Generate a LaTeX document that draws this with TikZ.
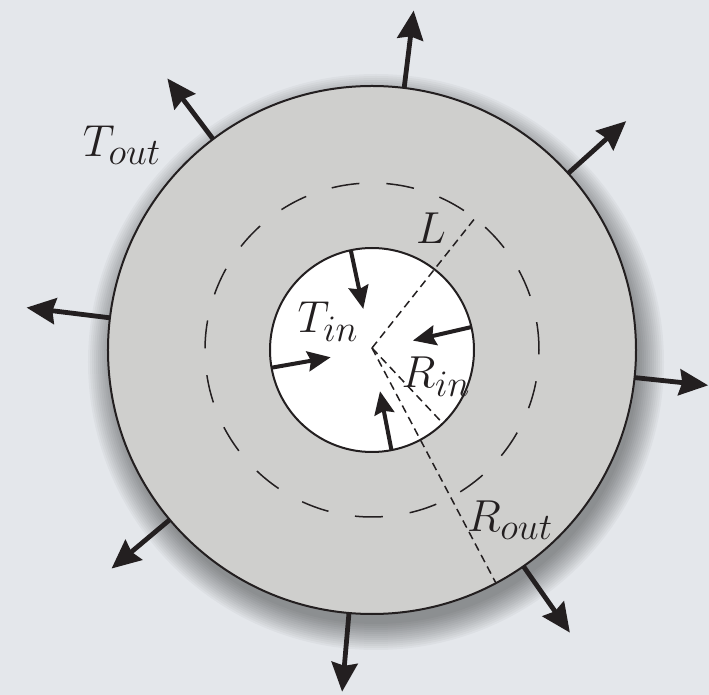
\documentclass[tikz,border=0pt]{standalone}
\usepackage{tikz}
\usetikzlibrary{arrows.meta}

\definecolor{bgcol}{RGB}{228,231,235}
\definecolor{discgray}{RGB}{207,207,205}
\definecolor{ink}{RGB}{35,31,32}

\begin{document}
\begin{tikzpicture}[x=1pt, y=1pt,
        ring/.style={circle, draw=ink, line width=2pt, inner sep=0pt, outer sep=0pt},
        outarr/.style={draw=ink, line width=4.8pt, -{Stealth[length=29pt, width=26pt, inset=3pt]}},
        inarr/.style={draw=ink, line width=4pt, -{Stealth[length=23pt, width=20pt, inset=3pt]}},
        rad/.style={draw=ink, line width=1.5pt, dash pattern=on 8pt off 5pt},
        lbl/.style={font=\Huge, scale=1.8, transform shape, inner sep=0pt, text=ink}
    ]

    %% ---- background ----
    \fill[bgcol] (-372,-345) rectangle (337,350);
    \useasboundingbox (-372,-345) rectangle (337,350);

    %% ---- shadow under the disc ----
    \foreach \r in {262,264,...,288}
        \fill[black, opacity=0.03] (4,-12) circle (\r);

    %% ---- rings ----
    \node[ring, fill=discgray, minimum size=528pt] (disc) at (0,0) {};
    \node[circle, draw=ink, line width=1.5pt, dash pattern=on 28pt off 27pt,
          inner sep=0pt, outer sep=0pt, minimum size=334pt] (Lring) at (0,0) {};
    \node[ring, fill=white, minimum size=204pt] (hole) at (0,0) {};
    \coordinate (ctr) at (0,2);

    %% ---- radii ----
    \draw[rad] (ctr) -- (Lring.52);
    \draw[rad] (ctr) -- (hole.-46);
    \draw[rad] (ctr) -- (disc.-62);

    %% ---- heat flux out ----
    \coordinate (o1) at (83:342);
    \coordinate (o2) at (42:342);
    \coordinate (o3) at (-6:338);
    \coordinate (o4) at (-55:345);
    \coordinate (o5) at (-95:343);
    \coordinate (o6) at (-140:340);
    \coordinate (o7) at (173:348);
    \coordinate (o8) at (127:340);
    \draw[outarr] (disc.83) -- (o1);
    \draw[outarr] (disc.42) -- (o2);
    \draw[outarr] (disc.-6) -- (o3);
    \draw[outarr] (disc.-55) -- (o4);
    \draw[outarr] (disc.-95) -- (o5);
    \draw[outarr] (disc.-140) -- (o6);
    \draw[outarr] (disc.173) -- (o7);
    \draw[outarr] (disc.127) -- (o8);

    %% ---- heat flux in ----
    \coordinate (i1) at (102:42);
    \coordinate (i2) at (13:42);
    \coordinate (i3) at (190:42);
    \coordinate (i4) at (-79:42);
    \draw[inarr] (hole.102) -- (i1);
    \draw[inarr] (hole.13) -- (i2);
    \draw[inarr] (hole.190) -- (i3);
    \draw[inarr] (hole.-79) -- (i4);

    %% ---- labels ----
    \node[lbl] (tout) at (-250,205) {$T_{out}$};
    \node[lbl] (tin) at (-44,28) {$T_{in}$};
    \node[lbl] (lab) at (59,122) {$L$};
    \node[lbl] (rin) at (64,-27) {$R_{in}$};
    \node[lbl] (rout) at (138,-170) {$R_{out}$};

\end{tikzpicture}
\end{document}
